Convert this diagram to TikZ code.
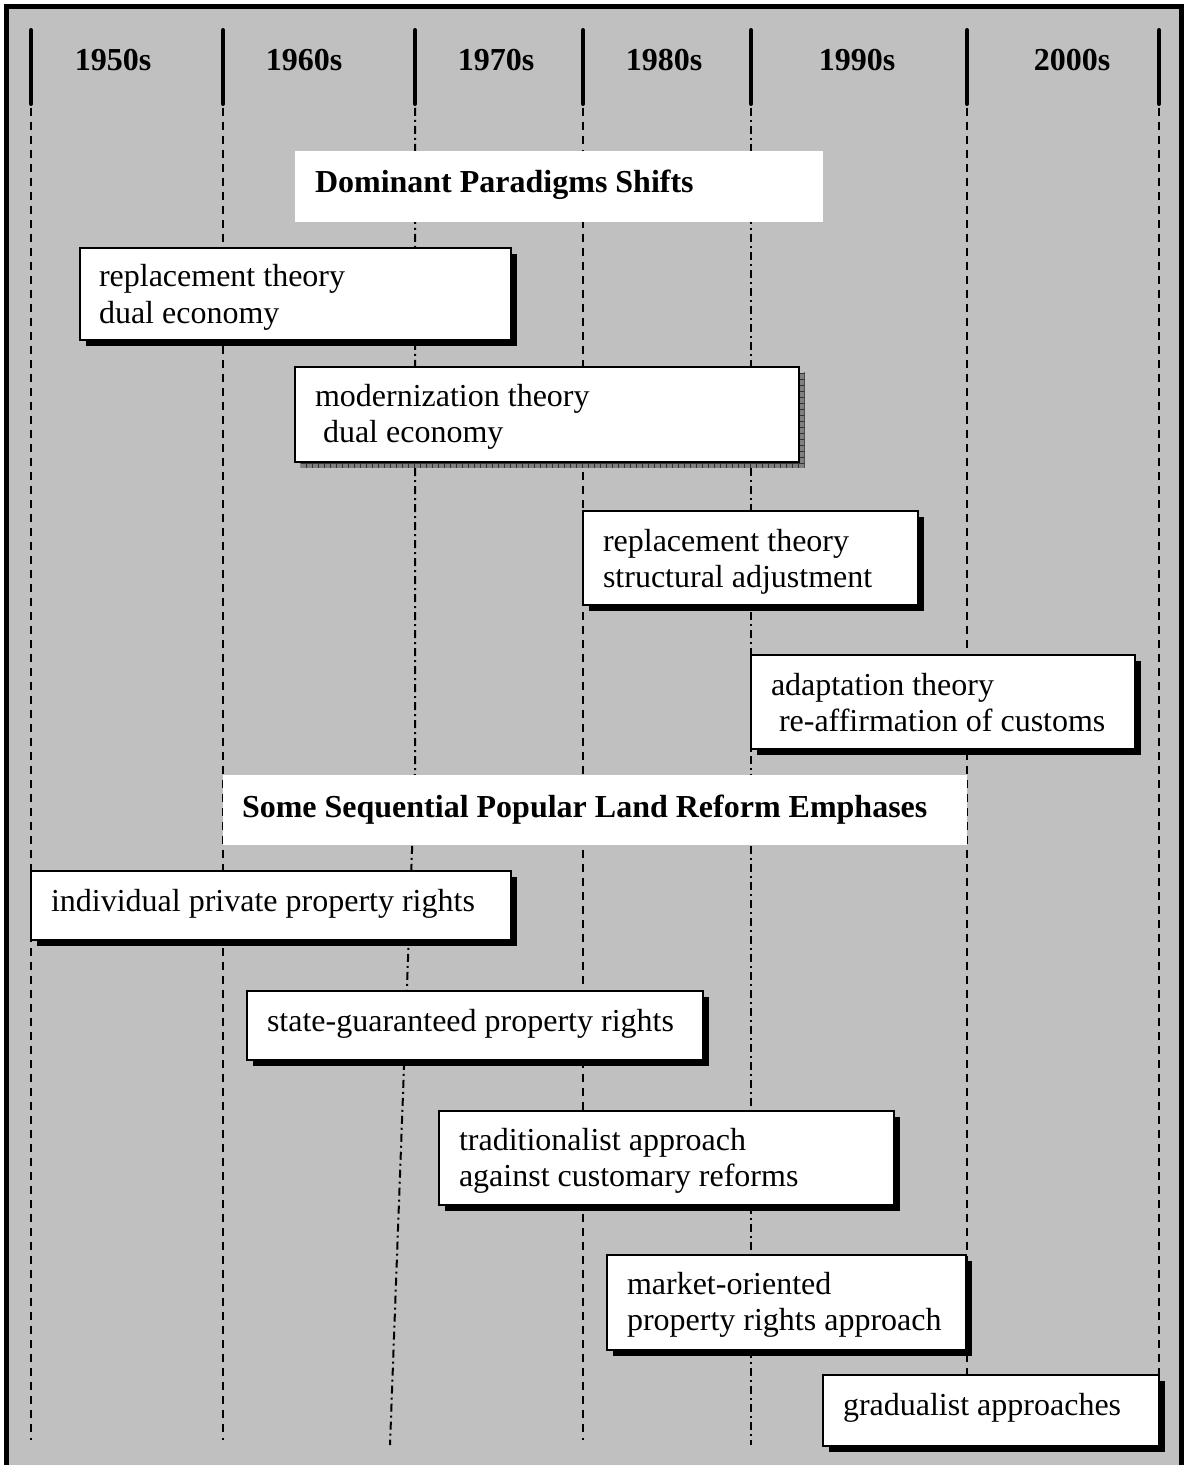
\documentclass[tikz,border=0pt]{standalone}
\usepackage{fontspec}
\setmainfont{Liberation Serif}
\usetikzlibrary{shadows,patterns}
\definecolor{panel}{HTML}{C0C0C0}

% a white box with its corners given in pixel units
\newcommand{\eraBox}[6][]{%
  \node[#1, anchor=north west,
        minimum width={(#5-#3)*0.5pt}, minimum height={(#6-#4)*0.5pt}]
        (#2) at (#3,#4) {};}

\begin{document}
\begin{tikzpicture}[x=0.5pt,y=-0.5pt,
  every node/.style={inner sep=0pt, outer sep=0pt},
  txt/.style={anchor=base west, font=\fontsize{16pt}{18pt}\selectfont},
  headtxt/.style={anchor=base west, font=\fontsize{16pt}{18pt}\selectfont\bfseries},
  yeartxt/.style={anchor=base, font=\fontsize{16pt}{18pt}\selectfont\bfseries},
  banner/.style={fill=white},
  card/.style={draw=black, line width=1pt, fill=white,
    drop shadow={shadow xshift=2.8pt, shadow yshift=-2.8pt, fill=black, opacity=1}},
  hatchcard/.style={draw=black, line width=1pt, fill=white,
    general shadow={shadow xshift=2.8pt, shadow yshift=-2.8pt, fill=black!50},
    general shadow={shadow xshift=2.8pt, shadow yshift=-2.8pt, pattern=grid, pattern color=black!80}},
  tick/.style={line width=2pt, line cap=round},
  decade/.style={line width=1pt, dash pattern=on 4pt off 3pt},
  decadedot/.style={line width=1pt, dash pattern=on 4pt off 2pt on 1pt off 2pt},
]
\useasboundingbox (0,0) rectangle (1184,1465);

% panel and frame
\fill[panel] (6.5,7) rectangle (1181.5,1465);
\draw[line width=2.5pt] (6.5,1465) -- (6.5,7) -- (1181.5,7) -- (1181.5,1465);

% decade separators
\foreach \x in {31,223,415,583,751,967,1159}
  \draw[tick] (\x,30) -- (\x,104);
\foreach \x in {31,223,583,967,1159}
  \draw[decade] (\x,108) -- (\x,1440);
\draw[decadedot] (751,108) -- (751,1445);
\draw[decadedot] (415,108) -- (415,770) -- (390,1445);

% decade labels
\node[yeartxt] (y50) at (113,71) {1950s};
\node[yeartxt] (y60) at (304,71) {1960s};
\node[yeartxt] (y70) at (496,71) {1970s};
\node[yeartxt] (y80) at (664,71) {1980s};
\node[yeartxt] (y90) at (857,71) {1990s};
\node[yeartxt] (y00) at (1072,71) {2000s};

% paradigm shifts
\eraBox[banner]{paradigms}{295}{151}{823}{222}
\node[headtxt] (paradigmsT) at (315,193) {Dominant Paradigms Shifts};

\eraBox[card]{replA}{80}{248}{511}{340}
\node[txt] (replA1) at (99,287) {replacement theory};
\node[txt] (replA2) at (99,323) {dual economy};

\eraBox[hatchcard]{modern}{295}{367}{799}{462}
\node[txt] (modern1) at (315,406) {modernization theory};
\node[txt] (modern2) at (323,442) {dual economy};

\eraBox[card]{replB}{583}{511}{918}{605}
\node[txt] (replB1) at (603,551) {replacement theory};
\node[txt] (replB2) at (603,587) {structural adjustment};

\eraBox[card]{adapt}{751}{655}{1135}{749}
\node[txt] (adapt1) at (771,695) {adaptation theory};
\node[txt] (adapt2) at (779,731) {re-affirmation of customs};

% land reform emphases
\eraBox[banner]{reform}{223}{775}{967}{845}
\node[headtxt] (reformT) at (242,817) {Some Sequential Popular Land Reform Emphases};

\eraBox[card]{indiv}{31}{871}{511}{940}
\node[txt] (indiv1) at (51,911) {individual private property rights};

\eraBox[card]{state}{247}{991}{703}{1060}
\node[txt] (state1) at (267,1031) {state-guaranteed property rights};

\eraBox[card]{trad}{439}{1111}{894}{1205}
\node[txt] (trad1) at (459,1150) {traditionalist approach};
\node[txt] (trad2) at (459,1186) {against customary reforms};

\eraBox[card]{market}{607}{1255}{966}{1350}
\node[txt] (market1) at (627,1294) {market-oriented};
\node[txt] (market2) at (627,1330) {property rights approach};

\eraBox[card]{grad}{823}{1375}{1159}{1446}
\node[txt] (grad1) at (843,1415) {gradualist approaches};
\end{tikzpicture}
\end{document}
